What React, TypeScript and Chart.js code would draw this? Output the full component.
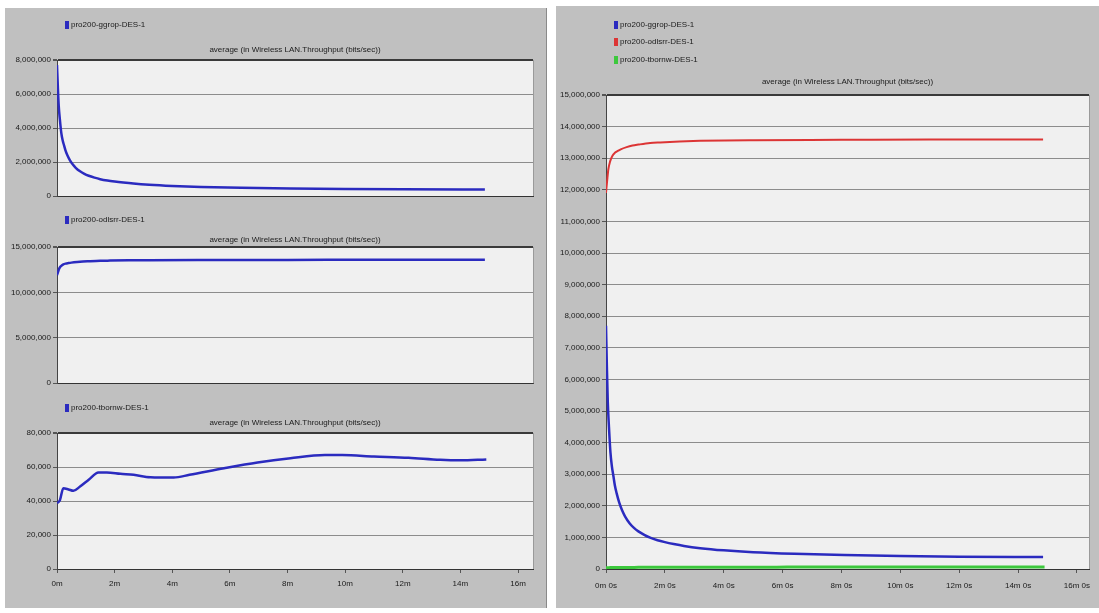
import React, { useEffect, useRef } from 'react';
import { Chart, registerables } from 'chart.js';

Chart.register(...registerables);

// ---- text ----
const gprsLabel = 'pro200-ggrop-DES-1';
const odlsrLabel = 'pro200-odlsrr-DES-1';
const tbornwLabel = 'pro200-tbornw-DES-1';
const chartTitle = 'average (in Wireless LAN.Throughput (bits/sec))';

// ---- data (time in minutes, throughput in bits/sec) ----
const gprsTimes = [0, 0.03, 0.06, 0.1, 0.15, 0.2, 0.25, 0.3, 0.36, 0.45, 0.55, 0.65, 0.8, 0.95, 1.1, 1.3, 1.5, 1.75, 2.0, 2.3, 2.65, 3.2, 4.0, 5.0, 6.4, 8.1, 10, 12, 14.85];
const gprsValues = [7700000, 6400000, 5300000, 4500000, 3700000, 3250000, 2950000, 2650000, 2400000, 2100000, 1850000, 1660000, 1450000, 1300000, 1190000, 1080000, 990000, 910000, 850000, 790000, 730000, 660000, 590000, 530000, 480000, 440000, 410000, 390000, 380000];

const odlsrTimes = [0, 0.04, 0.08, 0.14, 0.22, 0.3, 0.4, 0.5, 0.7, 0.9, 1.1, 1.5, 1.84, 2.5, 3.2, 5, 8, 11, 14.85];
const odlsrValues = [11900000, 12300000, 12650000, 12900000, 13080000, 13170000, 13230000, 13280000, 13350000, 13400000, 13430000, 13480000, 13500000, 13530000, 13550000, 13570000, 13580000, 13590000, 13590000];

const tbornwTimes = [0, 0.1, 0.22, 0.4, 0.57, 0.8, 1.1, 1.44, 1.73, 2.2, 2.66, 3.24, 4.05, 4.6, 5.8, 6.96, 8.1, 9.3, 9.9, 11.0, 12.2, 13.3, 14.0, 14.9];
const tbornwValues = [38700, 40500, 47500, 46800, 46000, 48500, 52500, 56800, 56800, 56000, 55400, 54000, 53800, 55400, 59300, 62700, 65200, 67000, 67000, 66200, 65400, 64200, 63900, 64400];

// ---- ticks ----
const xTicks = [0, 2, 4, 6, 8, 10, 12, 14, 16];
const gprsYTicks = [0, 2000000, 4000000, 6000000, 8000000];
const odlsrYTicks = [0, 5000000, 10000000, 15000000];
const tbornwYTicks = [0, 20000, 40000, 60000, 80000];
const rightYTicks = [0, 1000000, 2000000, 3000000, 4000000, 5000000, 6000000, 7000000, 8000000, 9000000, 10000000, 11000000, 12000000, 13000000, 14000000, 15000000];

const BLUE = '#2b2bbf';
const RED = '#dc3535';
const GREEN = '#3cc83c';
const FONT = '"Liberation Sans Narrow", "Arial Narrow", "Liberation Sans", Arial, sans-serif';

type Series = { label: string; color: string; width: number; times: number[]; values: number[] };
type Spec = {
  left: number; top: number; width: number; height: number;
  pad: { left: number; right: number; top: number; bottom: number };
  yWidth: number; xHeight: number; xPad: number;
  xMax: number; yMax: number; yTicks: number[];
  showXLabels: boolean; xFmt: (v: number) => string;
  series: Series[];
  legendX: number; legendYs: number[]; titleY: number;
};

function makeDeco(spec: Spec) {
  return {
    id: 'opnetDeco',
    beforeDraw(chart: any) {
      const { ctx, chartArea: a } = chart;
      ctx.save();
      ctx.fillStyle = '#f0f0f0';
      ctx.fillRect(a.left, a.top, a.right - a.left, a.bottom - a.top);
      ctx.restore();
    },
    afterDraw(chart: any) {
      const { ctx, chartArea: a } = chart;
      ctx.save();
      ctx.strokeStyle = '#9a9a9a';
      ctx.lineWidth = 1;
      ctx.beginPath();
      ctx.moveTo(a.right + 0.5, a.top);
      ctx.lineTo(a.right + 0.5, a.bottom);
      ctx.stroke();
      ctx.font = `8px ${FONT}`;
      ctx.textBaseline = 'middle';
      ctx.textAlign = 'left';
      spec.series.forEach((s, i) => {
        const y = spec.legendYs[i];
        ctx.fillStyle = s.color;
        ctx.fillRect(spec.legendX, y - 4, 4, 8);
        ctx.fillStyle = '#1a1a1a';
        ctx.fillText(s.label, spec.legendX + 6, y);
      });
      ctx.textAlign = 'center';
      ctx.fillStyle = '#1a1a1a';
      ctx.fillText(chartTitle, (a.left + a.right) / 2, spec.titleY);
      ctx.restore();
    },
  };
}

function Panel({ spec }: { spec: Spec }) {
  const ref = useRef<HTMLCanvasElement>(null);
  useEffect(() => {
    if (!ref.current) return;
    const yMax = spec.yMax;
    const chart = new Chart(ref.current, {
      type: 'line',
      data: {
        datasets: spec.series.map((s) => ({
          label: s.label,
          data: s.times.map((t, i) => ({ x: t, y: s.values[i] })),
          borderColor: s.color,
          backgroundColor: s.color,
          borderWidth: s.width,
          pointRadius: 0,
          fill: false,
          cubicInterpolationMode: 'monotone',
        })),
      },
      options: {
        animation: false,
        responsive: false,
        devicePixelRatio: 1,
        layout: { padding: spec.pad, autoPadding: false },
        plugins: {
          legend: { display: false },
          title: { display: false },
          tooltip: { enabled: false },
        },
        scales: {
          x: {
            type: 'linear',
            min: 0,
            max: spec.xMax,
            afterFit: (s: any) => { s.height = spec.xHeight; },
            afterBuildTicks: (s: any) => { s.ticks = xTicks.map((v) => ({ value: v })); },
            ticks: {
              display: spec.showXLabels,
              callback: (v: any) => spec.xFmt(Number(v)),
              font: { family: FONT, size: 8 },
              color: '#1a1a1a',
              padding: spec.xPad,
              maxRotation: 0,
              autoSkip: false,
            },
            grid: { drawOnChartArea: false, drawTicks: spec.showXLabels, tickLength: 4, color: '#555' },
            border: { color: '#333', width: 1 },
          },
          y: {
            type: 'linear',
            min: 0,
            max: yMax,
            afterFit: (s: any) => { s.width = spec.yWidth; },
            afterBuildTicks: (s: any) => { s.ticks = spec.yTicks.map((v) => ({ value: v })); },
            ticks: {
              callback: (v: any) => Number(v).toLocaleString('en-US'),
              font: { family: FONT, size: 8 },
              color: '#1a1a1a',
              padding: 2,
              autoSkip: false,
            },
            grid: {
              color: (c: any) => (c.tick && c.tick.value === yMax ? '#3a3a3a' : '#8c8c8c'),
              lineWidth: (c: any) => (c.tick && c.tick.value === yMax ? 2 : 1),
              tickColor: '#555',
              tickLength: 4,
            },
            border: { color: '#444', width: 1 },
          },
        },
      } as any,
      plugins: [makeDeco(spec)],
    });
    return () => chart.destroy();
  }, []);
  return (
    <canvas
      ref={ref}
      width={spec.width}
      height={spec.height}
      style={{ position: 'absolute', left: spec.left, top: spec.top, width: spec.width, height: spec.height }}
    />
  );
}

const minFmt = (v: number) => `${v}m`;
const minSecFmt = (v: number) => `${v}m 0s`;

const gprsSeries: Series = { label: gprsLabel, color: BLUE, width: 2.5, times: gprsTimes, values: gprsValues };
const odlsrSeries: Series = { label: odlsrLabel, color: RED, width: 2, times: odlsrTimes, values: odlsrValues };
const tbornwSeries: Series = { label: tbornwLabel, color: GREEN, width: 3, times: tbornwTimes, values: tbornwValues };

const specs: Spec[] = [
  {
    left: 5, top: 8, width: 540, height: 195,
    pad: { left: 2, right: 12, top: 52, bottom: 2 }, yWidth: 50, xHeight: 5, xPad: 2,
    xMax: 16.52, yMax: 8000000, yTicks: gprsYTicks, showXLabels: false, xFmt: minFmt,
    series: [gprsSeries], legendX: 60, legendYs: [17], titleY: 42,
  },
  {
    left: 5, top: 203, width: 540, height: 187,
    pad: { left: 2, right: 12, top: 44, bottom: 2 }, yWidth: 50, xHeight: 4, xPad: 2,
    xMax: 16.52, yMax: 15000000, yTicks: odlsrYTicks, showXLabels: false, xFmt: minFmt,
    series: [{ ...odlsrSeries, color: BLUE, width: 2.5 }], legendX: 60, legendYs: [17], titleY: 37,
  },
  {
    left: 5, top: 390, width: 540, height: 218,
    pad: { left: 2, right: 12, top: 43, bottom: 19 }, yWidth: 50, xHeight: 20, xPad: 6,
    xMax: 16.52, yMax: 80000, yTicks: tbornwYTicks, showXLabels: true, xFmt: minFmt,
    series: [{ ...tbornwSeries, color: BLUE, width: 2.5 }], legendX: 60, legendYs: [18], titleY: 33,
  },
  {
    left: 556, top: 6, width: 543, height: 602,
    pad: { left: 0, right: 10, top: 89, bottom: 14 }, yWidth: 50, xHeight: 25, xPad: 8,
    xMax: 16.41, yMax: 15000000, yTicks: rightYTicks, showXLabels: true, xFmt: minSecFmt,
    series: [gprsSeries, odlsrSeries, tbornwSeries], legendX: 58, legendYs: [19, 36, 54], titleY: 76,
  },
];

export default function App() {
  return (
    <div style={{ position: 'absolute', left: 0, top: 0, width: 1099, height: 613, background: '#ffffff', overflow: 'hidden' }}>
      <div style={{ position: 'absolute', left: 5, top: 8, width: 541, height: 600, background: '#c0c0c0', borderRight: '1px solid #8a8a8a' }} />
      <div style={{ position: 'absolute', left: 556, top: 6, width: 543, height: 602, background: '#c0c0c0' }} />
      {specs.map((s, i) => (
        <Panel key={i} spec={s} />
      ))}
    </div>
  );
}
